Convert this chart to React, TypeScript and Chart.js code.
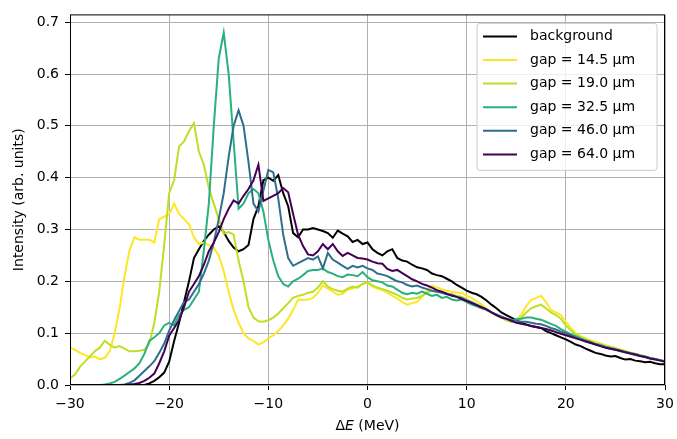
import React, { useEffect, useRef } from "react";
import { Chart, registerables } from "chart.js";

Chart.register(...registerables);

const FONT = "'DejaVu Sans', 'Liberation Sans', sans-serif";
const FS = 14;

// Energy offsets ΔE (MeV)
const energies = [
  -30, -29.5, -29, -28.5, -28, -27.5, -27, -26.5, -26, -25.5,
  -25, -24.5, -24, -23.5, -23, -22.5, -22, -21.5, -21, -20.5,
  -20, -19.5, -19, -18.5, -18, -17.5, -17, -16.5, -16, -15.5,
  -15, -14.5, -14, -13.5, -13, -12.5, -12, -11.5, -11, -10.5,
  -10, -9.5, -9, -8.5, -8, -7.5, -7, -6.5, -6, -5.5,
  -5, -4.5, -4, -3.5, -3, -2.5, -2, -1.5, -1, -0.5,
  0, 0.5, 1, 1.5, 2, 2.5, 3, 3.5, 4, 4.5,
  5, 5.5, 6, 6.5, 7, 7.5, 8, 8.5, 9, 9.5,
  10, 10.5, 11, 11.5, 12, 12.5, 13, 13.5, 14, 14.5,
  15, 15.5, 16, 16.5, 17, 17.5, 18, 18.5, 19, 19.5,
  20, 20.5, 21, 21.5, 22, 22.5, 23, 23.5, 24, 24.5,
  25, 25.5, 26, 26.5, 27, 27.5, 28, 28.5, 29, 29.5,
  30,
];

const background = [
  0, 0, 0, 0, 0, 0, 0, 0, 0, 0,
  0, 0, 0, 0, 0, 0, 0.003, 0.008, 0.015, 0.024,
  0.045, 0.085, 0.12, 0.16, 0.2, 0.245, 0.262, 0.278, 0.29, 0.3,
  0.306, 0.295, 0.278, 0.265, 0.258, 0.262, 0.27, 0.32, 0.345, 0.395,
  0.4, 0.394, 0.405, 0.37, 0.345, 0.293, 0.285, 0.3, 0.3, 0.303,
  0.3, 0.297, 0.293, 0.284, 0.298, 0.292, 0.287, 0.276, 0.28, 0.272,
  0.275, 0.262, 0.255, 0.25, 0.258, 0.262, 0.245, 0.24, 0.238, 0.232,
  0.227, 0.225, 0.222, 0.215, 0.212, 0.21, 0.205, 0.2, 0.193, 0.188,
  0.182, 0.178, 0.175, 0.17, 0.163, 0.155, 0.148, 0.14, 0.135, 0.13,
  0.125, 0.12, 0.117, 0.114, 0.112, 0.11, 0.104, 0.1, 0.096, 0.092,
  0.088, 0.083, 0.078, 0.075, 0.07, 0.066, 0.062, 0.06, 0.057, 0.055,
  0.056, 0.052, 0.049, 0.05, 0.047, 0.046, 0.044, 0.045, 0.042, 0.04,
  0.04,
];

const gap145 = [
  0.072, 0.068, 0.062, 0.058, 0.053, 0.055, 0.05, 0.052, 0.065, 0.1,
  0.148, 0.21, 0.26, 0.285, 0.28, 0.28, 0.28, 0.275, 0.32, 0.325,
  0.33, 0.35, 0.33, 0.32, 0.31, 0.285, 0.272, 0.275, 0.27, 0.265,
  0.25, 0.22, 0.18, 0.145, 0.12, 0.1, 0.09, 0.085, 0.078, 0.082,
  0.09, 0.096, 0.104, 0.115, 0.128, 0.145, 0.165, 0.164, 0.165, 0.168,
  0.178, 0.192, 0.186, 0.18, 0.174, 0.176, 0.184, 0.186, 0.19, 0.195,
  0.198, 0.19, 0.186, 0.183, 0.178, 0.172, 0.167, 0.16, 0.155, 0.158,
  0.16, 0.17, 0.182, 0.192, 0.188, 0.185, 0.182, 0.18, 0.178, 0.178,
  0.172, 0.168, 0.162, 0.155, 0.148, 0.14, 0.135, 0.13, 0.125, 0.122,
  0.125, 0.135, 0.152, 0.164, 0.168, 0.172, 0.16, 0.145, 0.14, 0.135,
  0.122, 0.11, 0.1, 0.094, 0.09, 0.086, 0.083, 0.08, 0.077, 0.074,
  0.072, 0.068, 0.065, 0.063, 0.06, 0.057, 0.055, 0.052, 0.05, 0.047,
  0.045,
];

const gap190 = [
  0.013, 0.02, 0.035, 0.045, 0.055, 0.065, 0.072, 0.085, 0.078, 0.072,
  0.075, 0.07, 0.065, 0.065, 0.066, 0.068, 0.08, 0.12, 0.18, 0.27,
  0.37, 0.395, 0.46, 0.47, 0.49, 0.505, 0.45, 0.425, 0.38, 0.35,
  0.32, 0.292, 0.295, 0.29, 0.24, 0.2, 0.15, 0.13, 0.123, 0.122,
  0.125, 0.13, 0.138, 0.148, 0.158, 0.168, 0.172, 0.174, 0.178, 0.18,
  0.188, 0.2, 0.19, 0.185, 0.182, 0.18, 0.186, 0.19, 0.188, 0.195,
  0.198, 0.192, 0.188, 0.185, 0.182, 0.178, 0.174, 0.168, 0.165, 0.167,
  0.168, 0.172, 0.178, 0.182, 0.18, 0.178, 0.176, 0.175, 0.172, 0.17,
  0.165, 0.16, 0.155, 0.15, 0.145, 0.14, 0.135, 0.13, 0.125, 0.122,
  0.125, 0.13, 0.14, 0.148, 0.152, 0.155, 0.148, 0.14, 0.135, 0.128,
  0.115, 0.105, 0.098, 0.092, 0.088, 0.085, 0.08, 0.078, 0.075, 0.072,
  0.07, 0.068, 0.065, 0.062, 0.06, 0.058, 0.055, 0.052, 0.05, 0.048,
  0.046,
];

const gap325 = [
  0, 0, 0, 0, 0, 0, 0, 0.001, 0.003, 0.006,
  0.012, 0.018, 0.025, 0.032, 0.042, 0.06, 0.085, 0.092, 0.1, 0.115,
  0.12, 0.115, 0.135, 0.145, 0.15, 0.165, 0.18, 0.26, 0.35, 0.5,
  0.63, 0.68, 0.6, 0.47, 0.34, 0.35, 0.37, 0.378, 0.37, 0.335,
  0.28, 0.24, 0.21, 0.195, 0.19, 0.2, 0.205, 0.212, 0.22, 0.222,
  0.222, 0.225, 0.218, 0.215, 0.21, 0.208, 0.213, 0.212, 0.21, 0.218,
  0.208, 0.202, 0.2, 0.198, 0.192, 0.19, 0.184, 0.178, 0.175, 0.178,
  0.176, 0.18, 0.176, 0.172, 0.174, 0.168, 0.17, 0.165, 0.163, 0.165,
  0.16, 0.155, 0.152, 0.148, 0.145, 0.14, 0.135, 0.132, 0.128, 0.125,
  0.127, 0.128, 0.13, 0.13, 0.128, 0.126, 0.122, 0.118, 0.114, 0.108,
  0.103, 0.098, 0.094, 0.09, 0.086, 0.083, 0.079, 0.077, 0.074, 0.072,
  0.069, 0.066, 0.064, 0.062, 0.06, 0.057, 0.055, 0.052, 0.05, 0.048,
  0.046,
];

const gap460 = [
  0, 0, 0, 0, 0, 0, 0, 0, 0, 0,
  0, 0.001, 0.004, 0.009, 0.018, 0.027, 0.036, 0.046, 0.062, 0.08,
  0.105, 0.125, 0.143, 0.16, 0.165, 0.18, 0.195, 0.215, 0.24, 0.275,
  0.32, 0.37, 0.44, 0.5, 0.53, 0.5, 0.43, 0.35, 0.335, 0.375,
  0.415, 0.41, 0.36, 0.29, 0.245, 0.23, 0.235, 0.24, 0.245, 0.242,
  0.248, 0.225, 0.255, 0.242, 0.236, 0.23, 0.224, 0.23, 0.227, 0.23,
  0.225, 0.222, 0.215, 0.213, 0.21, 0.205, 0.2, 0.198, 0.193, 0.19,
  0.192, 0.188, 0.185, 0.182, 0.18, 0.178, 0.175, 0.174, 0.17, 0.168,
  0.163, 0.16, 0.155, 0.15, 0.146, 0.14, 0.136, 0.132, 0.128, 0.125,
  0.124, 0.122, 0.122, 0.12, 0.118, 0.117, 0.114, 0.11, 0.107, 0.103,
  0.1, 0.096, 0.092, 0.088, 0.085, 0.082, 0.078, 0.075, 0.073, 0.07,
  0.068, 0.065, 0.063, 0.06, 0.058, 0.056, 0.054, 0.051, 0.05, 0.048,
  0.046,
];

const gap640 = [
  0, 0, 0, 0, 0, 0, 0, 0, 0, 0,
  0, 0, 0.001, 0.002, 0.004, 0.008, 0.014, 0.022, 0.042, 0.065,
  0.095, 0.11, 0.125, 0.15, 0.18, 0.195, 0.21, 0.232, 0.258, 0.275,
  0.295, 0.32, 0.34, 0.356, 0.35, 0.365, 0.378, 0.395, 0.425, 0.355,
  0.36, 0.365, 0.37, 0.38, 0.372, 0.33, 0.29, 0.268, 0.252, 0.25,
  0.258, 0.272, 0.262, 0.272, 0.258, 0.249, 0.255, 0.25, 0.245, 0.244,
  0.242, 0.238, 0.235, 0.234, 0.224, 0.22, 0.222, 0.216, 0.21, 0.204,
  0.2, 0.195, 0.192, 0.188, 0.183, 0.18, 0.176, 0.172, 0.17, 0.166,
  0.162, 0.158, 0.154, 0.15, 0.146, 0.14, 0.135, 0.13, 0.128, 0.124,
  0.12, 0.118, 0.116, 0.114, 0.112, 0.11, 0.108, 0.105, 0.102, 0.099,
  0.096, 0.093, 0.09, 0.087, 0.084, 0.081, 0.078, 0.075, 0.072, 0.07,
  0.068, 0.066, 0.063, 0.061, 0.059, 0.056, 0.054, 0.051, 0.049, 0.047,
  0.045,
];

const seriesLabels = [
  "background",
  "gap = 14.5 µm",
  "gap = 19.0 µm",
  "gap = 32.5 µm",
  "gap = 46.0 µm",
  "gap = 64.0 µm",
];
const seriesValues = [background, gap145, gap190, gap325, gap460, gap640];
const seriesColors = ["#000000", "#fde725", "#bddf26", "#2ab07e", "#2f6f8e", "#440154"];

const xTicks = [-30, -20, -10, 0, 10, 20, 30];
const yTicks = [0, 0.1, 0.2, 0.3, 0.4, 0.5, 0.6, 0.7];

const decorPlugin = {
  id: "decor",
  afterDatasetsDraw(chart: any) {
    const { ctx, chartArea: a } = chart;
    ctx.save();
    // frame (spines)
    ctx.strokeStyle = "#000";
    ctx.lineWidth = 1;
    ctx.strokeRect(a.left + 0.5, a.top + 0.5, a.right - a.left - 1, a.bottom - a.top - 1);

    // legend
    const lw = 180;
    const lh = 147;
    const lx = a.right - 8 - lw;
    const ly = a.top + 9;
    const r = 3;
    ctx.beginPath();
    ctx.moveTo(lx + r, ly);
    ctx.lineTo(lx + lw - r, ly);
    ctx.quadraticCurveTo(lx + lw, ly, lx + lw, ly + r);
    ctx.lineTo(lx + lw, ly + lh - r);
    ctx.quadraticCurveTo(lx + lw, ly + lh, lx + lw - r, ly + lh);
    ctx.lineTo(lx + r, ly + lh);
    ctx.quadraticCurveTo(lx, ly + lh, lx, ly + lh - r);
    ctx.lineTo(lx, ly + r);
    ctx.quadraticCurveTo(lx, ly, lx + r, ly);
    ctx.closePath();
    ctx.fillStyle = "rgba(255,255,255,0.8)";
    ctx.fill();
    ctx.strokeStyle = "#cccccc";
    ctx.lineWidth = 1;
    ctx.stroke();

    ctx.font = `${FS}px ${FONT}`;
    ctx.textBaseline = "middle";
    ctx.textAlign = "left";
    chart.data.datasets.forEach((ds: any, i: number) => {
      const y = ly + 13 + i * 23.6;
      ctx.strokeStyle = ds.borderColor;
      ctx.lineWidth = 2;
      ctx.beginPath();
      ctx.moveTo(lx + 6, y);
      ctx.lineTo(lx + 40, y);
      ctx.stroke();
      ctx.fillStyle = "#000";
      ctx.fillText(ds.label, lx + 53, y);
    });

    // x tick labels
    const normal = `${FS}px ${FONT}`;
    const italic = `italic ${FS}px ${FONT}`;
    ctx.fillStyle = "#000";
    ctx.font = normal;
    ctx.textAlign = "center";
    ctx.textBaseline = "middle";
    const xs = chart.scales.x;
    xTicks.forEach((v) => {
      const px = xs.getPixelForValue(v);
      ctx.fillText(String(v).replace("-", "\u2212"), px, a.bottom + 19);
    });

    // axis titles
    ctx.font = normal;
    const w1 = ctx.measureText("Δ").width;
    const w3 = ctx.measureText(" (MeV)").width;
    ctx.font = italic;
    const w2 = ctx.measureText("E").width;
    const cx = (a.left + a.right) / 2;
    let x = cx - (w1 + w2 + w3) / 2;
    const ty = a.bottom + 41;
    ctx.textAlign = "left";
    ctx.font = normal;
    ctx.fillText("Δ", x, ty);
    x += w1;
    ctx.font = italic;
    ctx.fillText("E", x, ty);
    x += w2;
    ctx.font = normal;
    ctx.fillText(" (MeV)", x, ty);

    ctx.save();
    ctx.translate(19, (a.top + a.bottom) / 2);
    ctx.rotate(-Math.PI / 2);
    ctx.textAlign = "center";
    ctx.font = normal;
    ctx.fillText("Intensity (arb. units)", 0, 0);
    ctx.restore();

    ctx.restore();
  },
};

export default function App() {
  const ref = useRef<HTMLCanvasElement | null>(null);

  useEffect(() => {
    if (!ref.current) return;
    const datasets = seriesLabels.map((label, i) => ({
      label,
      data: energies.map((e, k) => ({ x: e, y: seriesValues[i][k] })),
      borderColor: seriesColors[i],
      backgroundColor: seriesColors[i],
      borderWidth: 2,
      pointRadius: 0,
      tension: 0,
      fill: false,
      order: -i,
    }));
    const chart = new Chart(ref.current, {
      type: "line",
      data: { datasets },
      options: {
        responsive: false,
        animation: false,
        events: [],
        layout: { padding: { left: 0, top: 7, right: 12, bottom: 0 } },
        plugins: {
          legend: { display: false },
          tooltip: { enabled: false },
          title: { display: false },
        },
        scales: {
          x: {
            type: "linear",
            min: -30,
            max: 30,
            afterFit: (s: any) => {
              s.height = 54;
              s.paddingLeft = 0;
              s.paddingRight = 0;
            },
            afterBuildTicks: (s: any) => {
              s.ticks = xTicks.map((v) => ({ value: v }));
            },
            ticks: {
              display: false,
            },
            grid: {
              color: "#b0b0b0",
              lineWidth: 1,
              drawTicks: true,
              tickLength: 5,
              tickColor: "#000",
            },
            border: { display: false },
          },
          y: {
            type: "linear",
            min: 0,
            max: 0.715,
            afterFit: (s: any) => {
              s.width = 70;
            },
            afterBuildTicks: (s: any) => {
              s.ticks = yTicks.map((v) => ({ value: v }));
            },
            ticks: {
              color: "#000",
              font: { family: FONT, size: FS },
              padding: 6,
              callback: (v: any) => Number(v).toFixed(1),
            },
            grid: {
              color: "#b0b0b0",
              lineWidth: 1,
              drawTicks: true,
              tickLength: 5,
              tickColor: "#000",
            },
            border: { display: false },
          },
        },
      },
      plugins: [decorPlugin],
    });
    return () => chart.destroy();
  }, []);

  return (
    <div style={{ position: "absolute", left: 0, top: 0, width: 677, height: 439, background: "#fff" }}>
      <canvas ref={ref} width={677} height={439} style={{ display: "block" }} />
    </div>
  );
}
